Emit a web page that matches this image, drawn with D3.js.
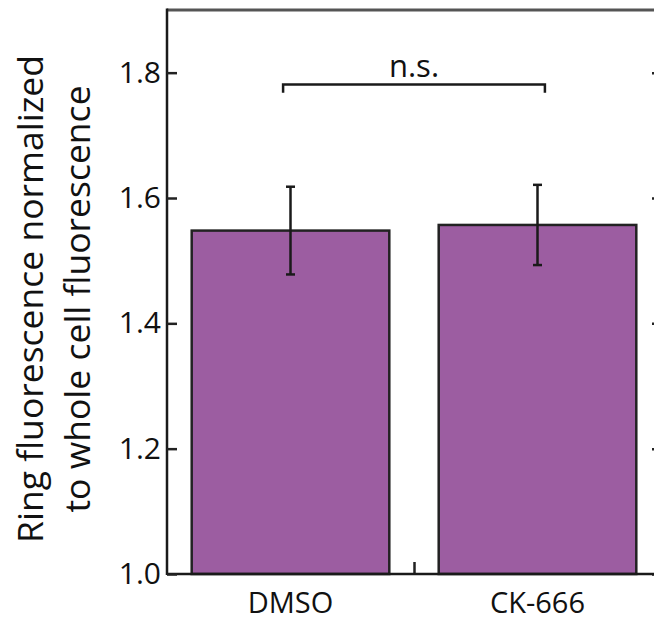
<!DOCTYPE html>
<html>
<head>
<meta charset="utf-8">
<script src="https://cdn.jsdelivr.net/npm/d3@7"></script>
<style>
  body { margin: 0; background: #fff; }
  svg { display: block; font-family: "Open Sans", sans-serif; }
  .axis path { display: none; }
  .axis line { stroke: #222; stroke-width: 2.5; }
  .axis text { font-size: 30px; fill: #111; font-family: "Open Sans", sans-serif; }
</style>
</head>
<body>
<script>
// chart data
const categories = ['DMSO', 'CK-666'];
const means = [1.548, 1.557];
const errors = [0.07, 0.064];
const yTicks = [1.0, 1.2, 1.4, 1.6, 1.8];
const sigLabel = 'n.s.';
const yLabelLines = ['Ring fluorescence normalized', 'to whole cell fluorescence'];

const width = 654, height = 622;
const svg = d3.select('body').append('svg')
    .attr('width', width)
    .attr('height', height);

// plot frame, right side runs past the window
let x = d3.scaleLinear().domain([0.5, 2.5]).range([167, 661]);
let y = d3.scaleLinear().domain([1.0, 1.9]).range([574, 10]);
let barW = x(0.8) - x(0);

// top border
svg.append('line')
    .attr('x1', x(0.5)).attr('x2', x(2.5))
    .attr('y1', y(1.9)).attr('y2', y(1.9))
    .attr('stroke', '#555').attr('stroke-width', 3);

// right axis ticks (inward)
svg.append('g')
    .attr('class', 'axis')
    .attr('transform', `translate(${x(2.5)},0)`)
    .call(d3.axisRight(y).tickValues(yTicks).tickSize(-9).tickFormat(''));

// bottom axis ticks (inward), bars will cover the ones at the categories
svg.append('g')
    .attr('class', 'axis')
    .attr('transform', `translate(0,${y(1.0)})`)
    .call(d3.axisBottom(x).tickValues([1, 1.5, 2]).tickSize(-12).tickFormat(''));

// bars
svg.append('g').selectAll('rect')
    .data(means)
    .join('rect')
    .attr('x', (d, i) => x(i + 1) - barW / 2)
    .attr('y', d => y(d))
    .attr('width', barW)
    .attr('height', d => y(1.0) - y(d))
    .attr('fill', '#9c5da1')
    .attr('stroke', '#222')
    .attr('stroke-width', 2.5);

// error bars
let err = svg.append('g')
    .attr('stroke', '#1a1a1a')
    .attr('stroke-width', 2.5);
means.forEach(function(m, i) {
    let cx = x(i + 1);
    let top = y(m + errors[i]), bot = y(m - errors[i]);
    err.append('line').attr('x1', cx).attr('x2', cx).attr('y1', top).attr('y2', bot);
    err.append('line').attr('x1', cx - 4.5).attr('x2', cx + 4.5).attr('y1', top).attr('y2', top);
    err.append('line').attr('x1', cx - 4.5).attr('x2', cx + 4.5).attr('y1', bot).attr('y2', bot);
});

// axis lines: left and bottom
svg.append('line')
    .attr('x1', x(0.5)).attr('x2', x(0.5))
    .attr('y1', y(1.9) - 1.5).attr('y2', y(1.0) + 1)
    .attr('stroke', '#1a1a1a').attr('stroke-width', 2.5);
svg.append('line')
    .attr('x1', x(0.5)).attr('x2', x(2.5))
    .attr('y1', y(1.0)).attr('y2', y(1.0))
    .attr('stroke', '#1a1a1a').attr('stroke-width', 2.5);

// left axis
svg.append('g')
    .attr('class', 'axis')
    .attr('transform', `translate(${x(0.5)},0)`)
    .call(d3.axisLeft(y).tickValues(yTicks).tickSize(-10).tickPadding(6)
        .tickFormat(d3.format('.1f')));

// category labels
svg.append('g').selectAll('text')
    .data(categories)
    .join('text')
    .attr('x', (d, i) => x(i + 1))
    .attr('y', 613)
    .attr('text-anchor', 'middle')
    .attr('font-size', 29)
    .attr('fill', '#111')
    .text(d => d);

// significance bracket
let by = y(1.781), bEnd = y(1.768);
svg.append('path')
    .attr('d', `M${x(0.97)},${bEnd} V${by} H${x(2.03)} V${bEnd}`)
    .attr('fill', 'none')
    .attr('stroke', '#1a1a1a')
    .attr('stroke-width', 2.5);
svg.append('text')
    .attr('x', x(1.5))
    .attr('y', 77)
    .attr('text-anchor', 'middle')
    .attr('font-size', 31)
    .attr('fill', '#111')
    .text(sigLabel);

// y axis title, two lines
let yl = svg.append('text')
    .attr('transform', 'translate(43,' + ((y(1.0) + y(1.9)) / 2 + 7) + ') rotate(-90)')
    .attr('text-anchor', 'middle')
    .attr('font-size', 35.5)
    .attr('fill', '#111');
yl.selectAll('tspan')
    .data(yLabelLines)
    .join('tspan')
    .attr('x', 0)
    .attr('dy', (d, i) => i === 0 ? 0 : 47)
    .text(d => d);
</script>
</body>
</html>
